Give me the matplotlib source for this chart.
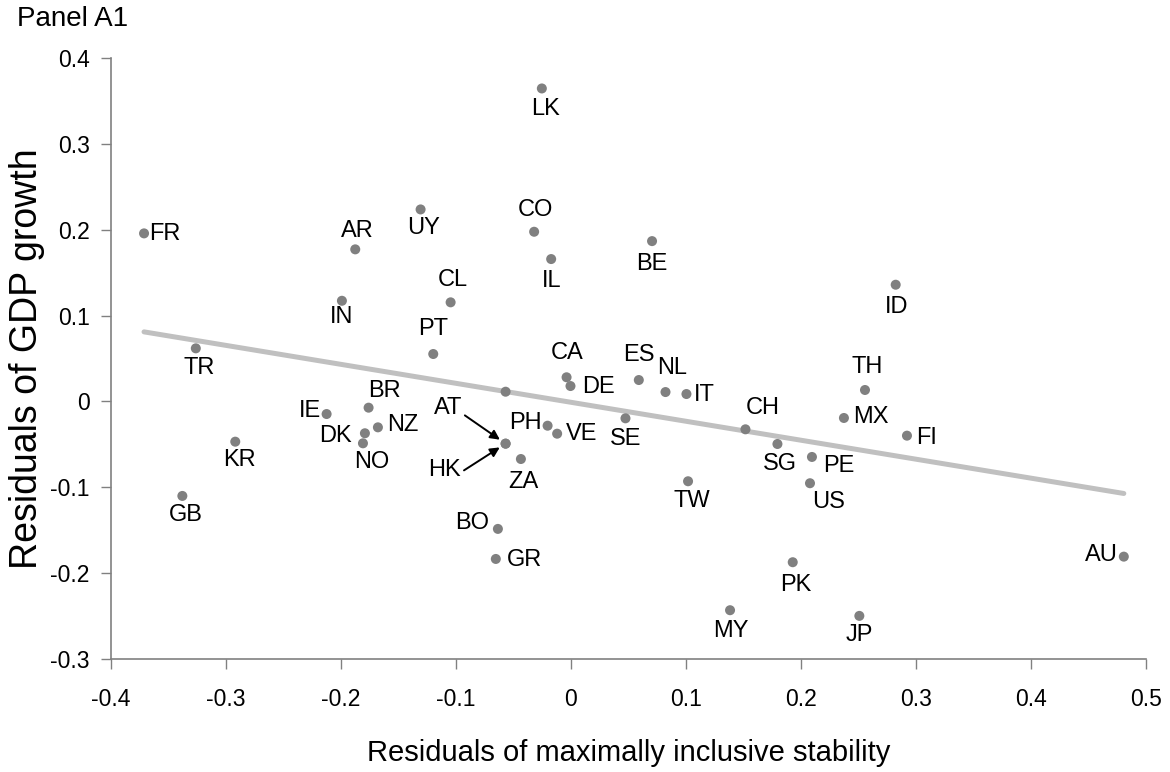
import matplotlib
matplotlib.use("Agg")
import matplotlib.pyplot as plt
import numpy as np

# ---- data ----
countries = ["FR", "TR", "KR", "GB", "AR", "IN", "BR", "IE", "NZ", "DK", "NO",
             "UY", "CL", "PT", "LK", "CO", "IL", "BE", "", "AT", "HK", "ZA",
             "PH", "VE", "CA", "DE", "ES", "SE", "BO", "GR", "NL", "IT", "CH",
             "SG", "PE", "US", "TW", "TH", "MX", "FI", "PK", "MY", "JP", "ID", "AU"]
stability_resid = [-0.371, -0.326, -0.2917, -0.3377, -0.1874, -0.199, -0.1758, -0.2123,
                   -0.1677, -0.179, -0.1807, -0.1306, -0.1045, -0.1196, -0.0252, -0.0319,
                   -0.0171, 0.0706, -0.0567, -0.0567, -0.0567, -0.0434, -0.0202, -0.0119,
                   -0.0037, -0.0003, 0.0591, 0.0475, -0.0634, -0.0652, 0.0823, 0.1005,
                   0.1518, 0.1796, 0.2096, 0.2079, 0.1019, 0.2557, 0.2374, 0.2922,
                   0.1929, 0.1384, 0.2508, 0.2824, 0.4807]
growth_resid = [0.1957, 0.0618, -0.0469, -0.1101, 0.1771, 0.1172, -0.0073, -0.0147,
                -0.0302, -0.0371, -0.0488, 0.2236, 0.1154, 0.0552, 0.3645, 0.1976,
                0.1658, 0.1867, 0.0113, -0.0492, -0.0492, -0.0671, -0.0283, -0.0376,
                0.0281, 0.0179, 0.0249, -0.0197, -0.1485, -0.1835, 0.0109, 0.0086,
                -0.0325, -0.0496, -0.0647, -0.0953, -0.093, 0.0133, -0.0193, -0.0399,
                -0.1873, -0.2432, -0.2498, 0.1359, -0.1808]
trend_slope = -0.221
trend_intercept = -0.001

x_ticks = [-0.4, -0.3, -0.2, -0.1, 0, 0.1, 0.2, 0.3, 0.4, 0.5]
x_tick_labels = ["-0.4", "-0.3", "-0.2", "-0.1", "0", "0.1", "0.2", "0.3", "0.4", "0.5"]
y_ticks = [-0.3, -0.2, -0.1, 0, 0.1, 0.2, 0.3, 0.4]
y_tick_labels = ["-0.3", "-0.2", "-0.1", "0", "0.1", "0.2", "0.3", "0.4"]

# ---- label placement (pixel offsets: dx right, dy down; ha) ----
label_pos = {
    "FR": (5, 1, "left"), "TR": (3, 20, "center"), "KR": (4, 18, "center"),
    "GB": (3, 19, "center"), "AR": (2, -18, "center"), "IN": (0, 16, "center"),
    "BR": (16, -17, "center"), "IE": (-5, -3, "right"), "NZ": (9, -2, "left"),
    "DK": (-13, 3, "right"), "NO": (9, 19, "center"), "UY": (3, 19, "center"),
    "CL": (2, -22, "center"), "PT": (0, -25, "center"), "LK": (4, 21, "center"),
    "CO": (1, -22, "center"), "IL": (1, 22, "center"), "BE": (0, 23, "center"),
    "ZA": (2, 23, "center"), "PH": (-6, -3, "right"), "VE": (9, 0, "left"),
    "CA": (1, -24, "center"), "DE": (12, 1, "left"), "ES": (0, -25, "center"),
    "SE": (0, 21, "center"), "BO": (-9, -6, "right"), "GR": (11, 1, "left"),
    "NL": (7, -24, "center"), "IT": (7, 1, "left"), "CH": (17, -21, "center"),
    "SG": (2, 20, "center"), "PE": (11, 9, "left"), "US": (19, 19, "center"),
    "TW": (4, 20, "center"), "TH": (2, -23, "center"), "MX": (9, -1, "left"),
    "FI": (9, 2, "left"), "PK": (3, 23, "center"), "MY": (1, 21, "center"),
    "JP": (0, 19, "center"), "ID": (1, 22, "center"), "AU": (-6, -2, "right"),
}
arrow_labels = {"AT": (-57.7, -35.7, (1.0, 0.25)), "HK": (-60.7, 26.3, (1.0, 0.4))}

plt.rcParams["font.family"] = ["Liberation Sans", "DejaVu Sans"]
DPI = 100
PX = 72.0 / DPI

fig = plt.figure(figsize=(11.7, 7.72), dpi=DPI)
ax = fig.add_axes([0.0946, 0.1464, 0.9795 - 0.0946, 0.9249 - 0.1464])

x = np.array(stability_resid)
y = np.array(growth_resid)

xl = np.array([x.min(), x.max()])
ax.plot(xl, trend_intercept + trend_slope * xl, color="#c0c0c0", lw=3.6,
        solid_capstyle="round", zorder=1)
ax.scatter(x, y, s=52, color="#808080", edgecolors="none", zorder=2)

fs_pt = 17
for name, xi, yi in zip(countries, x, y):
    if name in label_pos:
        dx, dy, ha = label_pos[name]
        ax.annotate(name, (xi, yi), xytext=(dx * PX, -dy * PX), textcoords="offset points",
                    ha=ha, va="center", fontsize=fs_pt, color="black", zorder=3)
    elif name in arrow_labels:
        dx, dy, rp = arrow_labels[name]
        ax.annotate(name, (xi, yi), xytext=(dx * PX, -dy * PX), textcoords="offset points",
                    ha="center", va="center", fontsize=fs_pt, color="black", zorder=3,
                    arrowprops=dict(arrowstyle="-|>", color="black", lw=1.4,
                                    mutation_scale=14, relpos=rp, shrinkA=0, shrinkB=5))

ax.set_xlim(-0.4, 0.5)
ax.set_ylim(-0.3, 0.4)
ax.set_xticks(x_ticks)
ax.set_xticklabels(x_tick_labels)
ax.set_yticks(y_ticks)
ax.set_yticklabels(y_tick_labels)
ax.tick_params(direction="out", length=7, width=1, color="#808080",
               labelsize=16.5, labelcolor="black")
ax.tick_params(axis="x", pad=14)
ax.tick_params(axis="y", pad=8)
for s in ["top", "right"]:
    ax.spines[s].set_visible(False)
for s in ["left", "bottom"]:
    ax.spines[s].set_color("#808080")
    ax.spines[s].set_linewidth(1.2)

ax.set_xlabel("Residuals of maximally inclusive stability", fontsize=21, labelpad=20)
ax.set_ylabel("Residuals of GDP growth", fontsize=27, labelpad=4)
fig.text(0.0145, 0.975, "Panel A1", fontsize=20, ha="left", va="center")

fig.savefig("out.png", dpi=DPI)
